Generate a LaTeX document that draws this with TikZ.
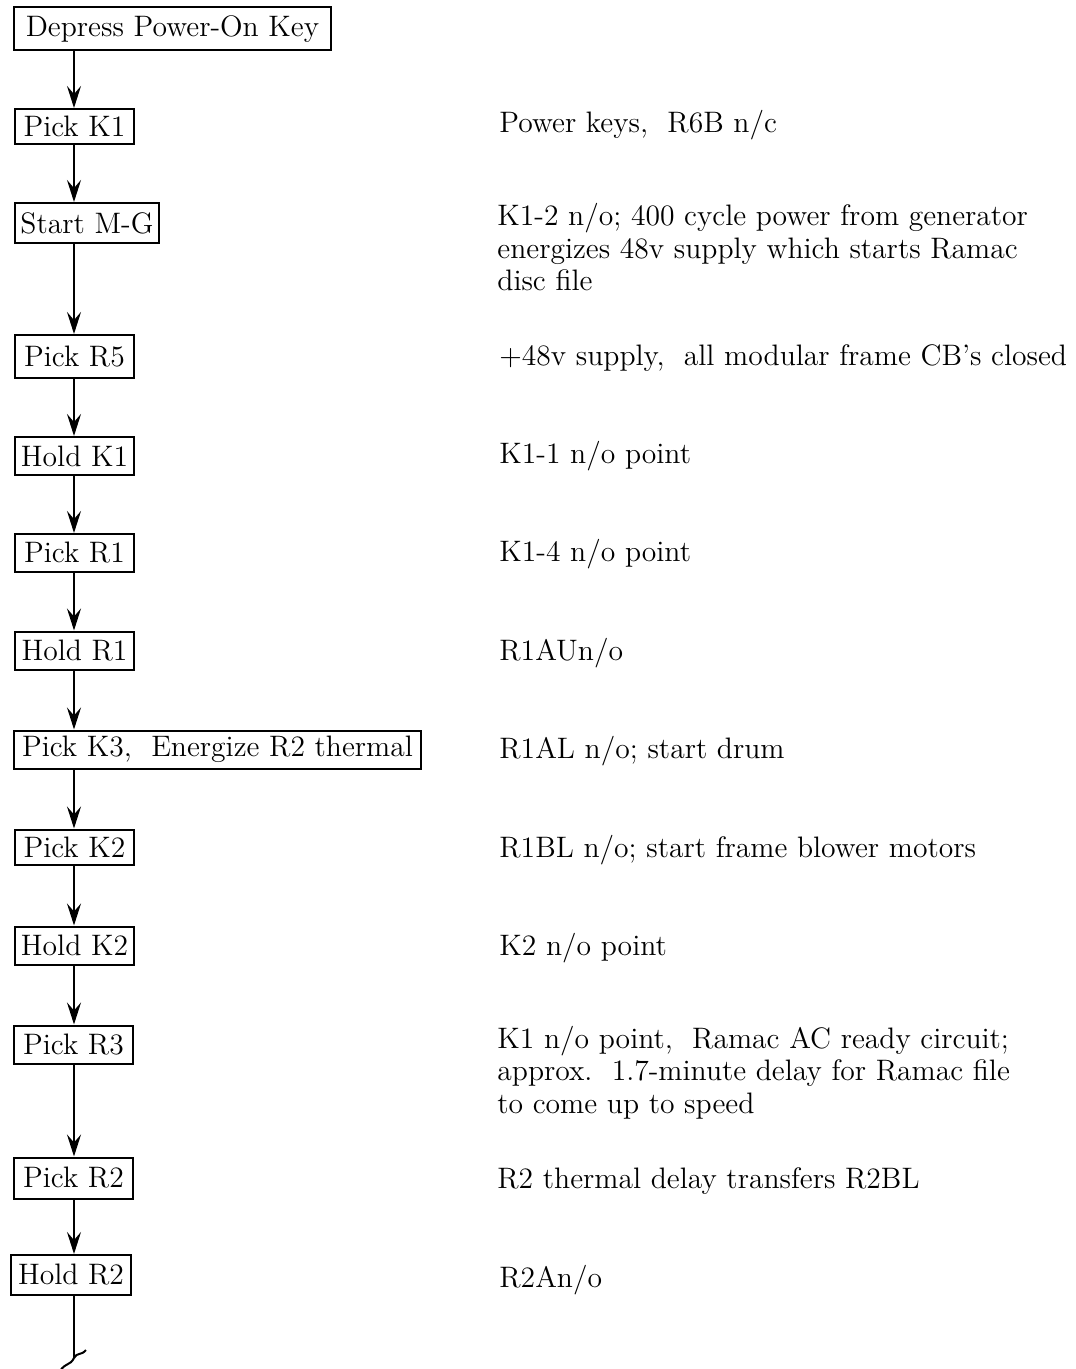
\documentclass[tikz,border=0pt]{standalone}
\usetikzlibrary{arrows.meta}
\begin{document}
\begin{tikzpicture}[x=0.5pt,y=-0.5pt,
  every node/.style={font=\fontsize{14.8}{16.25}\selectfont},
  stepbox/.style={draw,line width=1pt,anchor=west,minimum height=19pt,inner sep=0pt},
  note/.style={anchor=base west,inner sep=0pt,align=left},
  arr/.style={line width=1pt,-{Stealth[length=11pt,width=7pt,inset=4pt]}},
  plain/.style={line width=1pt}]
\useasboundingbox (0,0) rectangle (1075,1369);
\coordinate (spine) at (74,0);
\node[stepbox,minimum width=158.5pt,minimum height=21.5pt] (b1) at (13,29) {Depress Power-On Key};
\node[stepbox,minimum width=59.5pt,minimum height=17.5pt] (b2) at (14,126.5) {Pick K1};
\node[stepbox,minimum width=72pt,minimum height=20pt] (b3) at (14,223) {Start M-G};
\node[stepbox,minimum width=59.5pt,minimum height=21.5pt] (b4) at (14,356.5) {Pick R5};
\node[stepbox,minimum width=59.5pt] (b5) at (14,456) {Hold K1};
\node[stepbox,minimum width=59.5pt] (b6) at (14,553) {Pick R1};
\node[stepbox,minimum width=59.5pt] (b7) at (14,650.5) {Hold R1};
\node[stepbox,minimum width=203.5pt] (b8) at (13,749.5) {Pick K3,\ \ Energize R2 thermal};
\node[stepbox,minimum width=59.5pt,minimum height=17.5pt] (b9) at (14,847) {Pick K2};
\node[stepbox,minimum width=59.5pt] (b10) at (14,945.5) {Hold K2};
\node[stepbox,minimum width=59.5pt] (b11) at (13,1044.5) {Pick R3};
\node[stepbox,minimum width=59.5pt,minimum height=20.5pt] (b12) at (13,1178) {Pick R2};
\node[stepbox,minimum width=60pt,minimum height=20pt] (b13) at (10,1275) {Hold R2};

\foreach \a/\b in {b1/b2,b2/b3,b3/b4,b4/b5,b5/b6,b6/b7,b7/b8,b8/b9,b9/b10,b10/b11,b11/b12,b12/b13}
  \draw[arr] (\a.south -| spine) -- (\b.north -| spine);

\coordinate (tail) at (74,1358);
\draw[plain] (b13.south -| spine) -- (tail);
\draw[plain] (60,1371) .. controls (66,1362) and (70,1366) .. (tail) .. controls (77,1352) and (81,1356) .. (86,1350);

\node[note] (t2) at (499,133) {Power keys,\ \ R6B n/c};
\node[note] (t3) at (497,291) {K1-2 n/o; 400 cycle power from generator\\energizes 48v supply which starts Ramac\\disc file};
\node[note] (t4) at (499,365) {+48v supply,\ \ all modular frame CB's closed};
\node[note] (t5) at (499,463) {K1-1 n/o point};
\node[note] (t6) at (499,561) {K1-4 n/o point};
\node[note] (t7) at (499,660) {R1AUn/o};
\node[note] (t8) at (499,758) {R1AL n/o; start drum};
\node[note] (t9) at (499,857) {R1BL n/o; start frame blower motors};
\node[note] (t10) at (499,955) {K2 n/o point};
\node[note] (t11) at (497,1113) {K1 n/o point,\ \ Ramac AC ready circuit;\\approx.\ \ 1.7-minute delay for Ramac file\\to come up to speed};
\node[note] (t12) at (497,1188) {R2 thermal delay transfers R2BL};
\node[note] (t13) at (499,1287) {R2An/o};
\end{tikzpicture}
\end{document}
